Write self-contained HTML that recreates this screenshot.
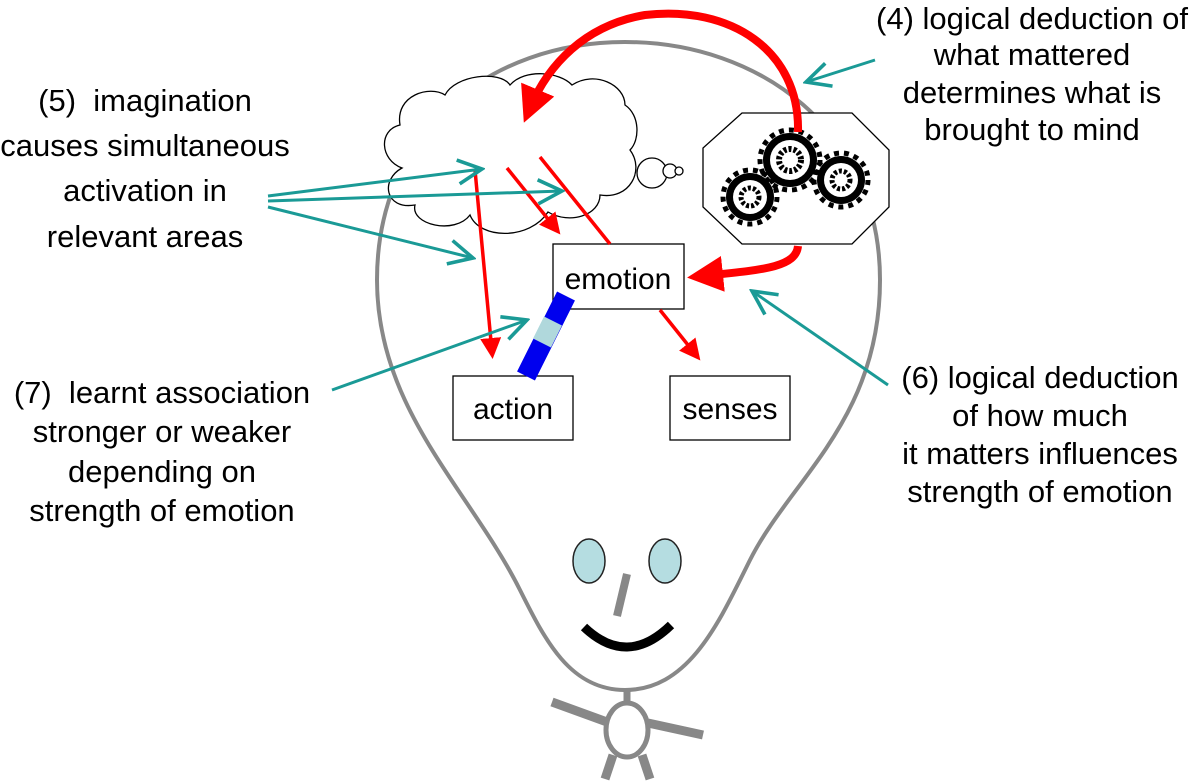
<!DOCTYPE html>
<html><head><meta charset="utf-8"><style>
html,body{margin:0;padding:0;background:#fff;}
svg{display:block;}
text{font-family:"Liberation Sans",Arial,sans-serif;fill:#000;white-space:pre;}
</style></head><body>
<svg width="1200" height="782" viewBox="0 0 1200 782" xmlns="http://www.w3.org/2000/svg">
<defs>
<marker id="ra" markerWidth="6" markerHeight="6" refX="4" refY="3" orient="auto" markerUnits="strokeWidth"><path d="M0,0 L6,3 L0,6 Z" fill="#f00"/></marker>
<marker id="rb" markerWidth="4.5" markerHeight="4.5" refX="2.5" refY="2.25" orient="auto" markerUnits="strokeWidth"><path d="M0,0 L4.5,2.25 L0,4.5 Z" fill="#f00"/></marker>
<marker id="ta" markerWidth="10" markerHeight="10" refX="9" refY="5" orient="auto" markerUnits="strokeWidth"><path d="M1,1 L9,5 L1,9" fill="none" stroke="#1a9a96" stroke-width="1.2"/></marker>
</defs>
<!-- head -->
<path d="M625,690 C570,690 545,640 520,590 C470,490 377,410 377,280 C377,130 490,42 625,42 C760,42 880,130 880,280 C880,420 790,480 750,560 C720,620 690,690 625,690 Z" fill="none" stroke="#888" stroke-width="4"/>
<line x1="627" y1="690" x2="627" y2="705" stroke="#888" stroke-width="7"/>
<ellipse cx="627" cy="730" rx="21" ry="27" fill="#fff" stroke="#888" stroke-width="5"/>
<line x1="552" y1="702" x2="607" y2="722" stroke="#888" stroke-width="9"/>
<line x1="648" y1="723" x2="703" y2="735" stroke="#888" stroke-width="9"/>
<line x1="613" y1="755" x2="605" y2="779" stroke="#888" stroke-width="9"/>
<line x1="642" y1="755" x2="650" y2="779" stroke="#888" stroke-width="9"/>
<ellipse cx="589" cy="561" rx="16" ry="22" fill="#b5dde1" stroke="#222" stroke-width="1.5"/>
<ellipse cx="665" cy="561" rx="16" ry="22" fill="#b5dde1" stroke="#222" stroke-width="1.5"/>
<line x1="627" y1="574" x2="617" y2="616" stroke="#888" stroke-width="8"/>
<path d="M584,627 Q627,668 671,625" fill="none" stroke="#000" stroke-width="9"/>
<!-- cloud -->
<g fill="#fff" stroke="#000" stroke-width="1.3">
<path d="M402,168 C380,160 378,130 400,125 C395,95 430,85 445,95 C455,75 500,70 510,85 C525,68 560,72 572,85 C595,70 625,85 625,105 C640,115 640,140 630,150 C645,170 630,200 600,195 C600,215 570,225 548,212 C530,240 480,240 470,215 C455,235 410,225 415,205 C385,210 380,180 402,168 Z"/>
<circle cx="652" cy="173" r="15"/><circle cx="670" cy="171" r="7"/><circle cx="679" cy="171" r="4"/>
</g>
<!-- octagon & gears -->
<polygon points="742,113 852,113 889,150 889,207 852,244 742,244 703,207 703,148" fill="#fff" stroke="#000" stroke-width="1.3"/>
<g fill="#000">
<circle cx="790" cy="160" r="27"/><circle cx="750" cy="197" r="24"/><circle cx="841" cy="180" r="24"/>
<circle cx="790" cy="160" r="30" fill="none" stroke="#000" stroke-width="5" stroke-dasharray="5 5"/>
<circle cx="750" cy="197" r="27" fill="none" stroke="#000" stroke-width="5" stroke-dasharray="5 5"/>
<circle cx="841" cy="180" r="27" fill="none" stroke="#000" stroke-width="5" stroke-dasharray="5 5"/>
<circle cx="790" cy="160" r="20" fill="#fff"/><circle cx="750" cy="197" r="17" fill="#fff"/><circle cx="841" cy="180" r="17" fill="#fff"/>
<circle cx="790" cy="160" r="11" fill="none" stroke="#000" stroke-width="6" stroke-dasharray="3 2"/>
<circle cx="750" cy="197" r="9" fill="none" stroke="#000" stroke-width="5" stroke-dasharray="3 2"/>
<circle cx="841" cy="180" r="9" fill="none" stroke="#000" stroke-width="5" stroke-dasharray="3 2"/>
</g>
<!-- boxes -->
<rect x="553" y="244" width="131" height="65" fill="#fff" stroke="#000" stroke-width="1.3"/>
<text x="618" y="289" font-size="30" text-anchor="middle">emotion</text>
<rect x="453" y="376" width="120" height="64" fill="#fff" stroke="#000" stroke-width="1.3"/>
<text x="513" y="419" font-size="30" text-anchor="middle">action</text>
<rect x="670" y="376" width="120" height="64" fill="#fff" stroke="#000" stroke-width="1.3"/>
<text x="730" y="419" font-size="30" text-anchor="middle">senses</text>
<!-- blue band -->
<line x1="566" y1="296" x2="526" y2="376" stroke="#0000ee" stroke-width="20"/>
<line x1="553" y1="321" x2="542" y2="343" stroke="#b0d8dc" stroke-width="20"/>
<!-- red arrows -->
<path d="M798,132 C800,50 730,5 645,15 C585,25 548,65 530,108" fill="none" stroke="#f00" stroke-width="8" marker-end="url(#rb)"/>
<path d="M798,246 C796,268 760,270 703,276" fill="none" stroke="#f00" stroke-width="8" marker-end="url(#rb)"/>
<line x1="475" y1="170" x2="492" y2="352" stroke="#f00" stroke-width="3.5" marker-end="url(#ra)"/>
<line x1="507" y1="168" x2="556" y2="229" stroke="#f00" stroke-width="3.5" marker-end="url(#ra)"/>
<line x1="540" y1="157" x2="610" y2="244" stroke="#f00" stroke-width="3.5"/>
<line x1="660" y1="310" x2="696" y2="355" stroke="#f00" stroke-width="3.5" marker-end="url(#ra)"/>
<!-- teal arrows -->
<g stroke="#1a9a96" stroke-width="3" fill="none" marker-end="url(#ta)">
<line x1="268" y1="196" x2="482" y2="169"/>
<line x1="268" y1="201" x2="562" y2="191"/>
<line x1="268" y1="207" x2="473" y2="258"/>
<line x1="332" y1="390" x2="527" y2="320"/>
<line x1="888" y1="385" x2="752" y2="291"/>
<line x1="875" y1="60" x2="806" y2="82"/>
</g>
<!-- labels -->
<g font-size="31" text-anchor="middle">
<text x="145" y="111">(5)  imagination</text>
<text x="145" y="156">causes simultaneous</text>
<text x="145" y="201">activation in</text>
<text x="145" y="247">relevant areas</text>
<text x="1032" y="29">(4) logical deduction of</text>
<text x="1032" y="65">what mattered</text>
<text x="1032" y="103">determines what is</text>
<text x="1032" y="140">brought to mind</text>
<text x="162" y="403">(7)  learnt association</text>
<text x="162" y="442">stronger or weaker</text>
<text x="162" y="482">depending on</text>
<text x="162" y="521">strength of emotion</text>
<text x="1040" y="388">(6) logical deduction</text>
<text x="1040" y="426">of how much</text>
<text x="1040" y="464">it matters influences</text>
<text x="1040" y="502">strength of emotion</text>
</g>
</svg>
</body></html>
